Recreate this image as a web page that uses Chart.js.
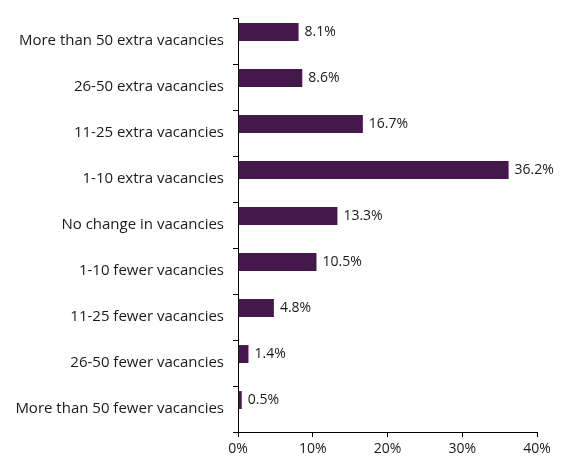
<!DOCTYPE html>
<html>
<head>
<meta charset="utf-8">
<script src="https://cdn.jsdelivr.net/npm/chart.js@4/dist/chart.umd.min.js"></script>
<style>
  html, body { margin: 0; padding: 0; background: #fff; }
  #wrap { width: 561px; height: 462px; }
</style>
</head>
<body>
<div id="wrap"><canvas id="vacChart"></canvas></div>
<script>
var categories = [
    'More than 50 extra vacancies',
    '26-50 extra vacancies',
    '11-25 extra vacancies',
    '1-10 extra vacancies',
    'No change in vacancies',
    '1-10 fewer vacancies',
    '11-25 fewer vacancies',
    '26-50 fewer vacancies',
    'More than 50 fewer vacancies'
];
var shares = [8.1, 8.6, 16.7, 36.2, 13.3, 10.5, 4.8, 1.4, 0.5];
var xTicks = [0, 10, 20, 30, 40];

var BAR = '#45184c';
var FONT = "'Open Sans', Lato, sans-serif";

// writes the percentage just past the end of each bar
var valueLabels = {
    id: 'valueLabels',
    afterDatasetsDraw: function (chart) {
        var ctx = chart.ctx;
        var meta = chart.getDatasetMeta(0);
        ctx.save();
        ctx.font = '14px ' + FONT;
        ctx.fillStyle = '#1a1a1a';
        ctx.textBaseline = 'middle';
        ctx.textAlign = 'left';
        meta.data.forEach(function (bar, i) {
            ctx.fillText(shares[i].toFixed(1) + '%', bar.x + 6, bar.y);
        });
        ctx.restore();
    }
};

new Chart(document.getElementById('vacChart'), {
    type: 'bar',
    data: {
        labels: categories,
        datasets: [
            { data: shares, backgroundColor: BAR, borderWidth: 0 },
            // empty companion series so the bars sit in the upper half of each slot
            { data: categories.map(function () { return null; }), backgroundColor: 'transparent' }
        ]
    },
    options: {
        indexAxis: 'y',
        responsive: true,
        maintainAspectRatio: false,
        animation: false,
        categoryPercentage: 0.78,
        barPercentage: 1.0,
        layout: { padding: { top: 14, right: 24, bottom: 0, left: 0 } },
        plugins: {
            legend: { display: false },
            tooltip: { enabled: false }
        },
        scales: {
            x: {
                min: 0,
                max: 40,
                afterBuildTicks: function (axis) {
                    axis.ticks = xTicks.map(function (v) { return { value: v }; });
                },
                afterFit: function (axis) { axis.height = 30; },
                border: { display: true, color: '#000', width: 1 },
                grid: { drawOnChartArea: false, drawTicks: true, tickLength: 5, color: '#000' },
                ticks: {
                    color: '#1a1a1a',
                    font: { family: FONT, size: 14 },
                    padding: 4,
                    callback: function (v) { return v + '%'; }
                }
            },
            y: {
                afterFit: function (axis) { axis.width = 238; },
                border: { display: true, color: '#000', width: 1 },
                grid: { drawOnChartArea: false, drawTicks: true, tickLength: 5, color: '#000', offset: true },
                ticks: {
                    color: '#1a1a1a',
                    font: { family: FONT, size: 15 },
                    padding: 9
                }
            }
        }
    },
    plugins: [valueLabels]
});
</script>
</body>
</html>
